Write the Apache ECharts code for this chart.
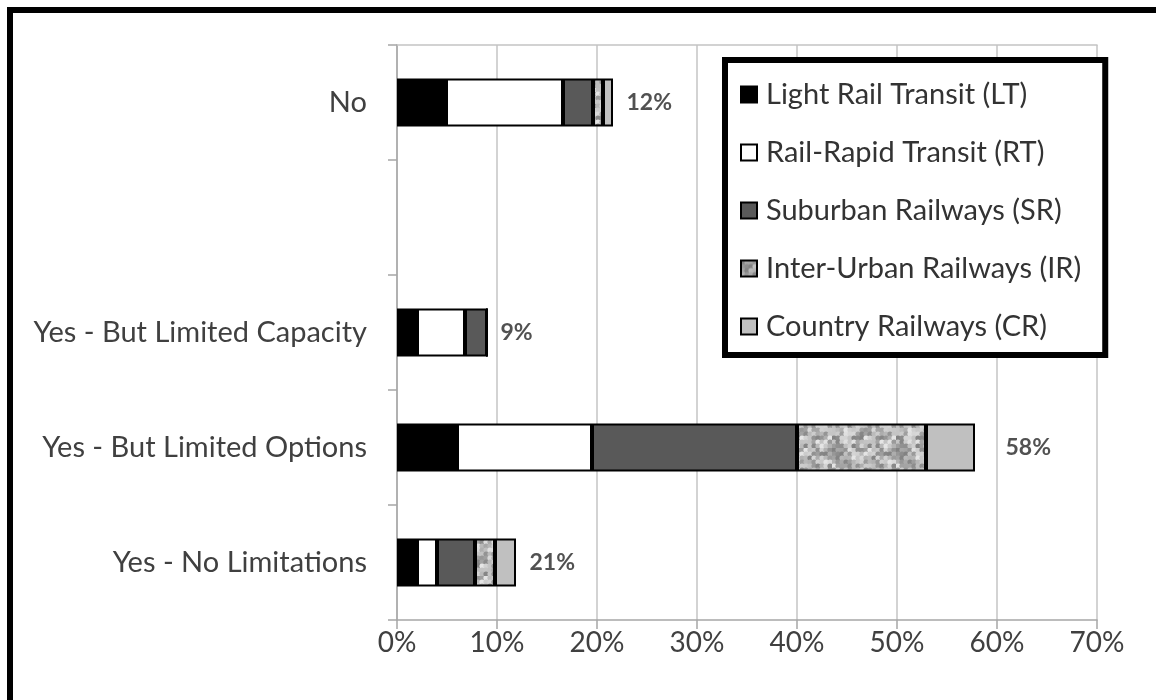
<!DOCTYPE html>
<html>
<head>
<meta charset="utf-8">
<script src="https://cdn.jsdelivr.net/npm/echarts@6/dist/echarts.min.js"></script>
<style>html,body{margin:0;padding:0;background:#fff}#c{width:1156px;height:700px}</style>
</head>
<body>
<div id="c"></div>
<script>
// ---- data (bottom to top on the category axis) ----
const categories = ['Yes - No Limitations', 'Yes - But Limited Options', 'Yes - But Limited Capacity', '', 'No'];
const seriesNames = ['Light Rail Transit (LT)', 'Rail-Rapid Transit (RT)', 'Suburban Railways (SR)', 'Inter-Urban Railways (IR)', 'Country Railways (CR)'];
const lt = [2.0, 6.0, 2.0, null, 4.9];
const rt = [2.0, 13.5, 4.8, null, 11.7];
const sr = [3.8, 20.5, 2.2, null, 3.0];
const ir = [2.0, 12.9, 0, null, 1.0];
const cr = [2.1, 4.9, 0, null, 1.0];
const barLabels = ['21%', '58%', '9%', '', '12%'];
const xTicks = [0, 10, 20, 30, 40, 50, 60, 70];

// ---- mottled texture for IR ----
function mottled() {
  const c = document.createElement('canvas');
  c.width = 64; c.height = 64;
  const g = c.getContext('2d');
  g.fillStyle = '#c4c4c4';
  g.fillRect(0, 0, 64, 64);
  for (let y = 0; y < 64; y += 4) {
    for (let x = 0; x < 64; x += 4) {
      const v = Math.sin(x * 12.9898 + y * 78.233) * 43758.5453;
      const f = v - Math.floor(v);
      const s = Math.round(130 + f * 100);
      g.fillStyle = 'rgb(' + s + ',' + s + ',' + s + ')';
      g.beginPath();
      g.arc(x + 2, y + 2, 2.6, 0, Math.PI * 2);
      g.fill();
    }
  }
  return c;
}

const fills = ['#000000', '#ffffff', '#595959', {image: mottled(), repeat: 'repeat'}, '#c0c0c0'];
const values = [lt, rt, sr, ir, cr];

const totals = categories.map((_, i) => values.reduce((s, arr) => s + (arr[i] || 0), 0));
const labelGap = {'Yes - But Limited Options': 30};

const FONT = 'Lato';
const chart = echarts.init(document.getElementById('c'), null, {renderer: 'canvas'});

const series = seriesNames.map((name, k) => ({
  name: name,
  type: 'bar',
  stack: 'total',
  barWidth: 48,
  xAxisIndex: 0,
  data: values[k],
  itemStyle: {color: fills[k], borderColor: '#000', borderWidth: 2},
  emphasis: {disabled: true},
  silent: true
}));

series.push({
  name: 'labels',
  type: 'scatter',
  xAxisIndex: 0,
  symbolSize: 1,
  itemStyle: {color: 'transparent'},
  silent: true,
  data: categories.map((c, i) => barLabels[i] === '' ? null : {
    value: [totals[i], c],
    label: {distance: labelGap[c] || 13}
  }),
  label: {
    show: true,
    position: 'right',
    formatter: p => barLabels[categories.indexOf(p.value[1])],
    fontFamily: FONT,
    fontWeight: 'bold',
    fontSize: 23,
    color: '#262626'
  }
});

chart.setOption({
  animation: false,
  backgroundColor: '#fff',
  graphic: [{
    type: 'rect',
    shape: {x: 10, y: 10, width: 1300, height: 900},
    style: {fill: 'none', stroke: '#000', lineWidth: 6},
    silent: true
  }],
  grid: {left: 397, right: 59, top: 45, bottom: 80, containLabel: false},
  legend: {
    orient: 'vertical',
    left: 725,
    top: 60,
    data: seriesNames,
    backgroundColor: '#fff',
    borderColor: '#000',
    borderWidth: 6,
    padding: [18, 24, 12, 15],
    itemGap: 25,
    itemWidth: 16,
    itemHeight: 16,
    icon: 'rect',
    textStyle: {fontFamily: FONT, fontSize: 29, color: '#333', lineHeight: 33, padding: [0, 0, 0, 4]}
  },
  xAxis: [{
    type: 'value',
    min: 0, max: 70, interval: 10,
    axisLabel: {formatter: '{value}%', fontFamily: FONT, fontSize: 28, color: '#404040', margin: 9},
    axisLine: {show: true, lineStyle: {color: '#a6a6a6', width: 1.5}},
    axisTick: {show: true, length: 9, lineStyle: {color: '#a6a6a6', width: 1.5}},
    splitLine: {show: true, lineStyle: {color: '#c4c4c4', width: 1.5}}
  }, {
    type: 'value',
    position: 'top',
    min: 0, max: 70, interval: 10,
    axisLabel: {show: false},
    axisTick: {show: false},
    splitLine: {show: false},
    axisLine: {show: true, lineStyle: {color: '#c4c4c4', width: 1.5}}
  }],
  yAxis: {
    type: 'category',
    data: categories,
    axisLine: {show: true, lineStyle: {color: '#a6a6a6', width: 1.5}},
    axisTick: {show: true, length: 9, lineStyle: {color: '#a6a6a6', width: 1.5}},
    axisLabel: {fontFamily: FONT, fontSize: 29, color: '#404040', margin: 30}
  },
  series: series
});
</script>
</body>
</html>
